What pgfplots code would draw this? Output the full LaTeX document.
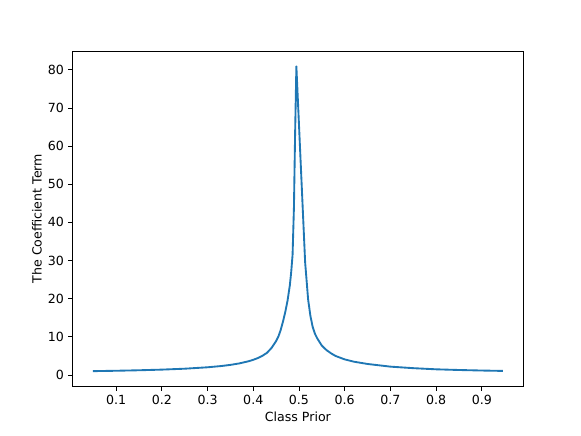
\documentclass[border=0pt]{standalone}
\usepackage{fontspec}
\setmainfont{DejaVu Sans}
\usepackage{pgfplots}
\pgfplotsset{compat=1.18}
\definecolor{mplblue}{HTML}{1F77B4}
\begin{document}
\fontsize{9.45}{11}\selectfont
\begin{tikzpicture}
\begin{axis}[
  scale only axis,
  width=337.8pt, height=251.3pt,
  xmin=0.005, xmax=0.99,
  ymin=-2.9, ymax=84.9,
  xtick={0.1,0.2,0.3,0.4,0.5,0.6,0.7,0.8,0.9},
  ytick={0,10,20,30,40,50,60,70,80},
  xticklabel style={/pgf/number format/fixed, /pgf/number format/precision=1},
  /pgf/number format/assume math mode=true,
  tick align=outside,
  xtick pos=bottom, ytick pos=left,
  major tick length=3.3pt,
  every tick/.style={black, line width=0.6pt},
  axis line style={line width=0.6pt},
  tick label style={font=\fontsize{9.45}{11}\selectfont},
  label style={font=\fontsize{9.45}{11}\selectfont},
  xlabel={Class Prior},
  ylabel={The Coefficient Term},
  xlabel style={yshift=1pt},
  ylabel style={yshift=-2pt},
]
\addplot[mplblue, line width=1.4pt, line join=round] coordinates {
(0.049,1.02) (0.10,1.12) (0.15,1.25) (0.20,1.42) (0.25,1.66) (0.30,2.03)
(0.33,2.36) (0.35,2.66) (0.37,3.06) (0.39,3.62) (0.40,3.99) (0.41,4.45)
(0.42,5.04) (0.43,5.82) (0.44,7.1) (0.45,8.9) (0.455,10.1) (0.46,11.8)
(0.465,14.0) (0.47,16.5) (0.475,19.5) (0.48,23.5) (0.483,27.0) (0.486,31.5)
(0.489,44.0) (0.4915,63.0)
(0.4943,80.9)
(0.5135,29.5) (0.52,19.8) (0.525,15.5) (0.53,12.6) (0.535,10.8) (0.54,9.6)
(0.55,7.7) (0.56,6.55) (0.57,5.7) (0.58,5.0) (0.60,4.1) (0.62,3.5)
(0.65,2.9) (0.70,2.2) (0.75,1.8) (0.80,1.5) (0.85,1.32) (0.90,1.18) (0.946,1.08)
};
\end{axis}
\path[use as bounding box] ([xshift=-54.5pt,yshift=-36.75pt]current axis.south west) rectangle ([xshift=43.5pt,yshift=38.3pt]current axis.north east);
\end{tikzpicture}
\end{document}
